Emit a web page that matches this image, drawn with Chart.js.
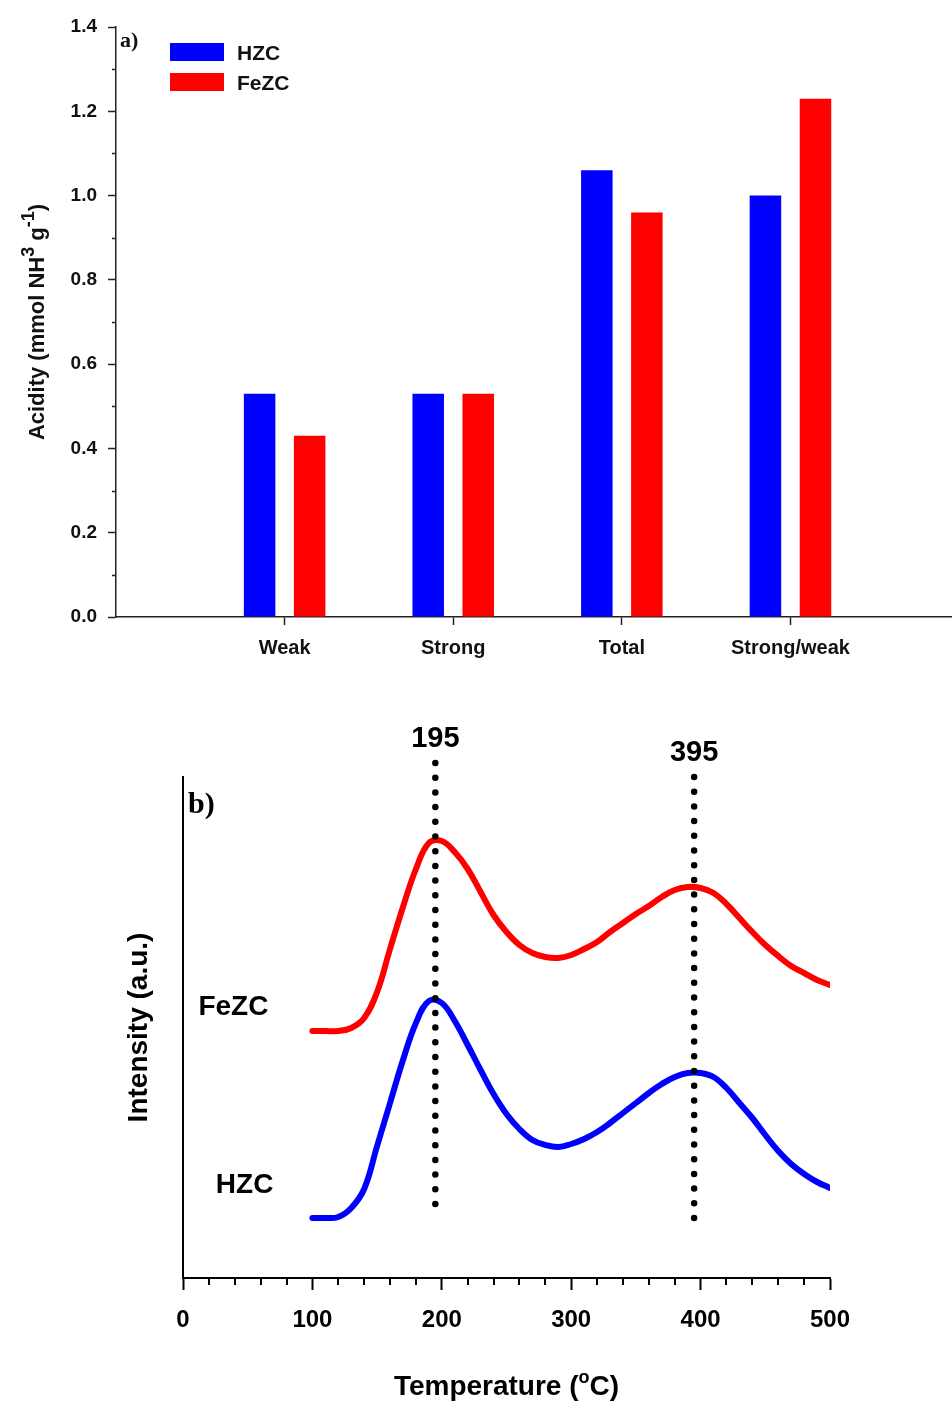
<!DOCTYPE html>
<html lang="en">
<head>
<meta charset="UTF-8">
<title>Acidity and NH3-TPD - HZC / FeZC</title>
<script src="https://cdn.jsdelivr.net/npm/chart.js"></script>
<style>
    body {
        margin: 0;
        background: #fff;
        width: 952px;
        height: 1402px;
        position: relative;
        overflow: hidden;
    }
    #topBox { position: absolute; left: 0; top: 0; }
    #bottomBox { position: absolute; left: 0; top: 690px; }
</style>
</head>
<body>
<div id="topBox"><canvas id="acidityChart" width="952" height="680"></canvas></div>
<div id="bottomBox"><canvas id="tpdChart" width="952" height="712"></canvas></div>

<script>
// ---- panel a) acidity bars
const categories = ['Weak', 'Strong', 'Total', 'Strong/weak'];
const hzcAcidity = [0.53, 0.53, 1.06, 1.00];
const fezcAcidity = [0.43, 0.53, 0.96, 1.23];

// ---- panel b) NH3-TPD profiles (intensity in a.u., curves offset)
const tpdTemps = [100, 110, 120, 130, 140, 150, 160, 170, 180, 190, 200,
    210, 220, 230, 240, 250, 260, 270, 280, 290, 300, 310, 320, 330, 340, 350, 360,
    370, 380, 390, 400, 410, 420, 430, 440, 450, 460, 470, 480, 490, 500];
const hzcIntensity = [60, 60, 61, 70, 89, 132, 175, 218, 255, 277, 275,
    257, 233, 208, 184, 164, 149, 138, 133, 131, 134, 139, 146, 155, 165, 175, 185,
    194, 201, 205, 205, 201, 190, 175, 160, 143, 127, 114, 104, 96, 90];
const fezcIntensity = [247, 247, 247, 250, 260, 286, 329, 371, 409, 435, 437,
    426, 409, 386, 363, 346, 333, 325, 321, 320, 323, 329, 336, 346, 355, 364, 372,
    381, 388, 391, 390, 385, 374, 360, 346, 333, 322, 312, 305, 298, 293];
const peakTemps = [195, 395];
const peakLineTop = [515, 501];
const peakLineBottom = [70, 56];

const BLUE = '#0000ff';
const RED = '#ff0000';
const SANS = "'Liberation Sans', Arial, Helvetica, sans-serif";
const SERIF = "'Liberation Serif', 'Times New Roman', serif";

Chart.defaults.font.family = SANS;
Chart.defaults.color = '#111';

// draws text with superscript pieces, centred on x
function drawRich(ctx, parts, x, y, size, supSize, rise) {
    let total = 0;
    parts.forEach(p => {
        ctx.font = 'bold ' + (p.sup ? supSize : size) + 'px ' + SANS;
        p.w = ctx.measureText(p.t).width;
        total += p.w;
    });
    let cx = x - total / 2;
    ctx.textAlign = 'left';
    ctx.textBaseline = 'alphabetic';
    parts.forEach(p => {
        ctx.font = 'bold ' + (p.sup ? supSize : size) + 'px ' + SANS;
        ctx.fillText(p.t, cx, p.sup ? y - rise : y);
        cx += p.w;
    });
}

const acidityDecor = {
    id: 'acidityDecor',
    afterDraw(chart) {
        const ctx = chart.ctx;
        const area = chart.chartArea;
        const ys = chart.scales.y;
        ctx.save();
        // minor ticks on the y axis
        ctx.strokeStyle = '#222';
        ctx.lineWidth = 1.5;
        ctx.beginPath();
        for (let i = 1; i < 14; i += 2) {
            const py = Math.round(ys.getPixelForValue(i / 10)) + 0.5;
            ctx.moveTo(area.left - 4, py);
            ctx.lineTo(area.left, py);
        }
        ctx.stroke();

        // panel letter
        ctx.fillStyle = '#111';
        ctx.font = 'bold 22px ' + SERIF;
        ctx.textAlign = 'left';
        ctx.textBaseline = 'alphabetic';
        ctx.fillText('a)', 120, 47);

        // legend
        chart.data.datasets.forEach((ds, i) => {
            ctx.fillStyle = ds.backgroundColor;
            ctx.fillRect(170, 43 + i * 30, 54, 18);
            ctx.fillStyle = '#111';
            ctx.font = 'bold 21px ' + SANS;
            ctx.fillText(ds.label, 237, 60 + i * 30);
        });

        // y axis title
        ctx.translate(44, (area.top + area.bottom) / 2);
        ctx.rotate(-Math.PI / 2);
        ctx.fillStyle = '#111';
        drawRich(ctx, [
            {t: 'Acidity (mmol NH'}, {t: '3', sup: true}, {t: ' g'}, {t: '-1', sup: true}, {t: ')'}
        ], 0, 0, 22, 18, 10);
        ctx.restore();
    }
};

new Chart(document.getElementById('acidityChart'), {
    type: 'bar',
    data: {
        datasets: [
            {
                label: 'HZC',
                data: categories.map((c, i) => ({x: i + 1, y: hzcAcidity[i]})),
                backgroundColor: BLUE
            },
            {
                label: 'FeZC',
                data: categories.map((c, i) => ({x: i + 1, y: fezcAcidity[i]})),
                backgroundColor: RED
            }
        ]
    },
    options: {
        responsive: false,
        animation: false,
        categoryPercentage: 0.5935,
        barPercentage: 0.63,
        layout: { padding: { top: 27, right: 0, left: 0, bottom: 0 } },
        plugins: { legend: { display: false }, tooltip: { enabled: false } },
        scales: {
            x: {
                type: 'linear',
                min: 0,
                max: 4.958,
                offset: false,
                afterBuildTicks: axis => { axis.ticks = categories.map((c, i) => ({value: i + 1})); },
                afterFit: axis => { axis.height = 63; },
                ticks: {
                    padding: 11,
                    font: { size: 20, weight: 'bold' },
                    color: '#111',
                    callback: v => categories[v - 1]
                },
                grid: { offset: false, drawOnChartArea: false, tickLength: 8, tickWidth: 1.5, tickColor: '#222' },
                border: { color: '#222', width: 1.5 }
            },
            y: {
                min: 0,
                max: 1.4,
                afterFit: axis => { axis.width = 116; },
                ticks: {
                    stepSize: 0.2,
                    padding: 11,
                    font: { size: 19, weight: 'bold' },
                    color: '#111',
                    callback: v => v.toFixed(1)
                },
                grid: { drawOnChartArea: false, tickLength: 8, tickWidth: 1.5, tickColor: '#222' },
                border: { color: '#222', width: 1.5 }
            }
        }
    },
    plugins: [acidityDecor]
});

const tpdDecor = {
    id: 'tpdDecor',
    afterDraw(chart) {
        const ctx = chart.ctx;
        const area = chart.chartArea;
        const xs = chart.scales.x;
        const ys = chart.scales.y;
        ctx.save();
        // minor ticks every 20 C
        ctx.strokeStyle = '#000';
        ctx.lineWidth = 2;
        ctx.beginPath();
        for (let t = 20; t < 500; t += 20) {
            if (t % 100 === 0) continue;
            const px = Math.round(xs.getPixelForValue(t));
            ctx.moveTo(px, area.bottom);
            ctx.lineTo(px, area.bottom + 7);
        }
        ctx.stroke();

        ctx.fillStyle = '#000';
        // peak labels above the dotted lines
        ctx.font = 'bold 29px ' + SANS;
        ctx.textAlign = 'center';
        ctx.textBaseline = 'alphabetic';
        peakTemps.forEach((t, i) => {
            ctx.fillText(String(t), xs.getPixelForValue(t), ys.getPixelForValue(peakLineTop[i]) - 16);
        });

        // series names at the start of each curve
        const offsets = [[-44, -16], [-39, -25]];
        ctx.font = 'bold 28px ' + SANS;
        ctx.textAlign = 'right';
        chart.data.datasets.forEach((ds, i) => {
            if (!ds.seriesName) return;
            const first = chart.getDatasetMeta(i).data[0];
            const off = offsets[ds.seriesName === 'FeZC' ? 0 : 1];
            ctx.fillText(ds.seriesName, first.x + off[0], first.y + off[1]);
        });

        // panel letter
        ctx.font = 'bold 30px ' + SERIF;
        ctx.textAlign = 'left';
        ctx.fillText('b)', 188, 123);

        // axis titles
        drawRich(ctx, [{t: 'Temperature ('}, {t: 'o', sup: true}, {t: 'C)'}],
            (area.left + area.right) / 2, 705, 28, 18, 12);
        ctx.translate(147, (area.top + area.bottom) / 2);
        ctx.rotate(-Math.PI / 2);
        ctx.font = 'bold 28px ' + SANS;
        ctx.textAlign = 'center';
        ctx.fillText('Intensity (a.u.)', 0, 0);
        ctx.restore();
    }
};

const peakLines = peakTemps.map((t, i) => ({
    label: 'peak ' + t,
    data: [{x: t, y: peakLineTop[i]}, {x: t, y: peakLineBottom[i]}],
    borderColor: '#000',
    borderWidth: 6.5,
    borderDash: [0, 14.7],
    borderCapStyle: 'round',
    pointRadius: 0,
    tension: 0,
    clip: false,
    order: 0
}));

new Chart(document.getElementById('tpdChart'), {
    type: 'line',
    data: {
        datasets: [
            {
                label: 'FeZC',
                seriesName: 'FeZC',
                data: tpdTemps.map((t, i) => ({x: t, y: fezcIntensity[i]})),
                borderColor: RED,
                borderWidth: 6,
                borderCapStyle: 'round',
                borderJoinStyle: 'round',
                pointRadius: 0,
                tension: 0.4,
                order: 2
            },
            {
                label: 'HZC',
                seriesName: 'HZC',
                data: tpdTemps.map((t, i) => ({x: t, y: hzcIntensity[i]})),
                borderColor: BLUE,
                borderWidth: 6,
                borderCapStyle: 'round',
                borderJoinStyle: 'round',
                pointRadius: 0,
                tension: 0.4,
                order: 2
            },
            ...peakLines
        ]
    },
    options: {
        responsive: false,
        animation: false,
        layout: { padding: { top: 87, right: 122, left: 0, bottom: 0 } },
        plugins: { legend: { display: false }, tooltip: { enabled: false } },
        scales: {
            x: {
                type: 'linear',
                min: 0,
                max: 500,
                afterFit: axis => { axis.height = 124; },
                ticks: {
                    stepSize: 100,
                    padding: 16,
                    font: { size: 24, weight: 'bold' },
                    color: '#000'
                },
                grid: { drawOnChartArea: false, tickLength: 12, tickWidth: 2, tickColor: '#000' },
                border: { color: '#000', width: 2 }
            },
            y: {
                min: 0,
                max: 501,
                afterFit: axis => { axis.width = 183; },
                ticks: { display: false },
                grid: { display: false },
                border: { display: true, color: '#000', width: 2 }
            }
        }
    },
    plugins: [tpdDecor]
});
</script>
</body>
</html>
